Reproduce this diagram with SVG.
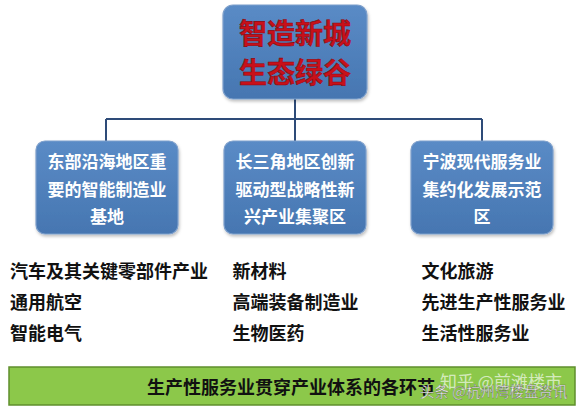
<svg xmlns="http://www.w3.org/2000/svg" width="580" height="411" viewBox="0 0 580 411">
<defs>
<linearGradient id="blueG" x1="0" y1="0" x2="0" y2="1">
<stop offset="0" stop-color="#5a8bc6"/>
<stop offset="1" stop-color="#4676b1"/>
</linearGradient>
<filter id="sh" x="-10%" y="-10%" width="120%" height="130%">
<feDropShadow dx="1" dy="2" stdDeviation="1.5" flood-color="#000" flood-opacity="0.25"/>
</filter>
<style>
.box{fill:url(#blueG);stroke:#7d9fcb;stroke-width:1.2;filter:url(#sh);}
.title{font-family:"Noto Sans CJK SC","Noto Sans CJK TC",sans-serif;font-weight:700;font-size:28px;fill:#c8101a;stroke:#8a0a10;stroke-width:0.6;text-anchor:middle;}
.bt{font-family:"Noto Sans CJK SC",sans-serif;font-weight:700;font-size:17px;fill:#ffffff;text-anchor:middle;}
.it{font-family:"Noto Sans CJK SC",sans-serif;font-weight:700;font-size:18px;fill:#111111;}
.conn{fill:none;stroke:#2e4b78;stroke-width:2;}
.wm1{font-family:"Noto Sans CJK SC",sans-serif;font-size:17px;fill:#ffffff;fill-opacity:0.65;}
.wm2{font-family:"Noto Sans CJK SC",sans-serif;font-size:14.5px;fill:#ffffff;stroke:#333;stroke-width:0.5;stroke-opacity:0.6;}
</style>
</defs>
<rect width="580" height="411" fill="#ffffff"/>
<g id="connectors">
<path class="conn" d="M295 99 V141"/>
<path class="conn" d="M106 119 H482"/>
<path class="conn" d="M106 119 V141"/>
<path class="conn" d="M482 119 V141"/>
</g>
<g id="root">
<rect class="box" x="223" y="5" width="144" height="94" rx="10"/>
<text class="title" x="295" y="44">智造新城</text>
<text class="title" x="295" y="82.5">生态绿谷</text>
</g>
<g id="east">
<rect class="box" x="36" y="141" width="142" height="93" rx="9"/>
<text class="bt" x="107" y="168">东部沿海地区重</text>
<text class="bt" x="107" y="195.5">要的智能制造业</text>
<text class="bt" x="107" y="222.5">基地</text>
</g>
<g id="yrd">
<rect class="box" x="224" y="141" width="142" height="93" rx="9"/>
<text class="bt" x="295" y="168">长三角地区创新</text>
<text class="bt" x="295" y="195.5">驱动型战略性新</text>
<text class="bt" x="295" y="222.5">兴产业集聚区</text>
</g>
<g id="ningbo">
<rect class="box" x="411" y="141" width="142" height="93" rx="9"/>
<text class="bt" x="482" y="168">宁波现代服务业</text>
<text class="bt" x="482" y="195.5">集约化发展示范</text>
<text class="bt" x="482" y="222.5">区</text>
</g>
<g id="list1">
<text class="it" x="10" y="277.5">汽车及其关键零部件产业</text>
<text class="it" x="10" y="308.5">通用航空</text>
<text class="it" x="10" y="339.5">智能电气</text>
</g>
<g id="list2">
<text class="it" x="232.5" y="277.5">新材料</text>
<text class="it" x="232.5" y="308.5">高端装备制造业</text>
<text class="it" x="232.5" y="339.5">生物医药</text>
</g>
<g id="list3">
<text class="it" x="421.5" y="277.5">文化旅游</text>
<text class="it" x="421.5" y="308.5">先进生产性服务业</text>
<text class="it" x="421.5" y="339.5">生活性服务业</text>
</g>
<g id="banner">
<rect x="9" y="367" width="566" height="38" fill="#8cc84a" stroke="#5f8f2c" stroke-width="1.5"/>
<text class="it" x="147" y="393.5">生产性服务业贯穿产业体系的各环节</text>
<text class="wm1" x="440" y="388">知乎 @前滩楼市</text>
<text class="wm2" x="420" y="397">头条 @杭州湾楼盘资讯</text>
</g>
</svg>
